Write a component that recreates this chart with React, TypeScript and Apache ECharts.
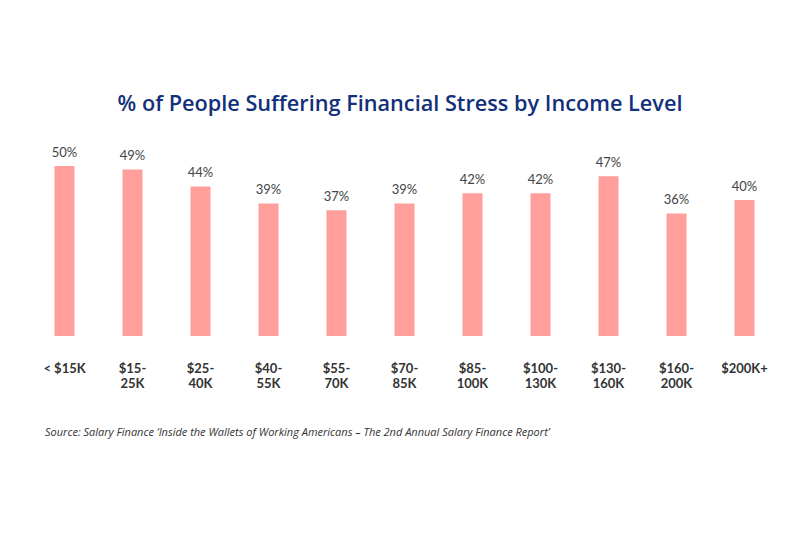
import React, { useEffect, useRef } from "react";
import * as echarts from "echarts";

const incomeLevels = [
  "< $15K",
  "$15-\n25K",
  "$25-\n40K",
  "$40-\n55K",
  "$55-\n70K",
  "$70-\n85K",
  "$85-\n100K",
  "$100-\n130K",
  "$130-\n160K",
  "$160-\n200K",
  "$200K+",
];
const stressPct = [50, 49, 44, 39, 37, 39, 42, 42, 47, 36, 40];

const titleText = "% of People Suffering Financial Stress by Income Level";
const sourceText =
  "Source: Salary Finance \u2018Inside the Wallets of Working Americans \u2013 The 2nd Annual Salary Finance Report\u2019";

export default function App() {
  const ref = useRef<HTMLDivElement>(null);

  useEffect(() => {
    if (!ref.current) return;
    const chart = echarts.init(ref.current, null, { renderer: "svg" });
    chart.setOption({
      animation: false,
      backgroundColor: "#ffffff",
      title: {
        text: titleText,
        left: 395,
        top: 86,
        textAlign: "center",
        textStyle: {
          fontFamily: "Open Sans",
          fontSize: 21.7,
          fontWeight: 600,
          color: "#13307a",
        },
      },
      graphic: [
        {
          type: "text",
          left: 45,
          top: 426,
          style: {
            text: sourceText,
            fontFamily: "Open Sans",
            fontStyle: "italic",
            fontSize: 11,
            fill: "#333333",
          },
        },
      ],
      grid: {
        left: 30.5,
        right: 21.5,
        top: 166,
        bottom: 197,
        containLabel: false,
      },
      xAxis: {
        type: "category",
        data: incomeLevels,
        axisLine: { show: false },
        axisTick: { show: false },
        axisLabel: {
          interval: 0,
          margin: 24,
          fontFamily: "Lato",
          fontWeight: "bold",
          fontSize: 13,
          lineHeight: 15,
          color: "#333333",
          verticalAlign: "top",
        },
      },
      yAxis: {
        type: "value",
        min: 0,
        max: 50,
        show: false,
        splitLine: { show: false },
      },
      series: [
        {
          type: "bar",
          data: stressPct,
          barWidth: 20,
          itemStyle: { color: "#ff9e9b" },
          label: {
            show: true,
            position: "top",
            distance: 8,
            formatter: "{c}%",
            fontFamily: "Lato",
            fontSize: 13,
            color: "#444444",
          },
        },
      ],
    });
    return () => chart.dispose();
  }, []);

  return (
    <div
      ref={ref}
      style={{ position: "absolute", left: 0, top: 0, width: 800, height: 533 }}
    />
  );
}
